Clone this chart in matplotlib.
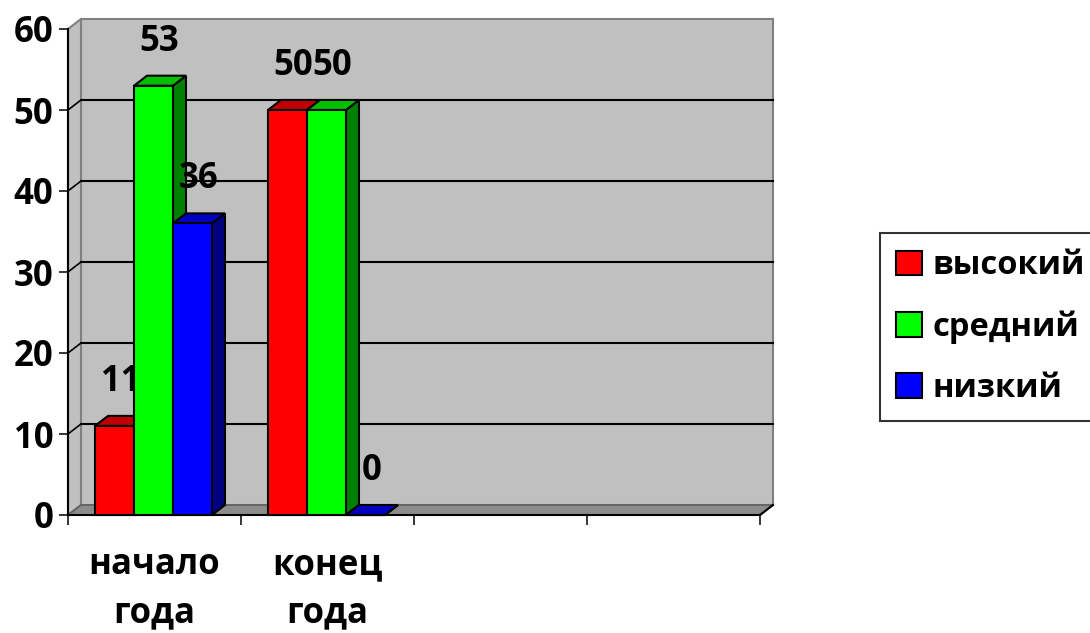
import matplotlib.pyplot as plt
from matplotlib.patches import Polygon, Patch

plt.rcParams["font.family"] = ["Open Sans", "DejaVu Sans"]
plt.rcParams["font.weight"] = "bold"

categories = ["начало\nгода", "конец\nгода", "", ""]
series = ["высокий", "средний", "низкий"]
values = {
    "высокий": [11, 50, None, None],
    "средний": [53, 50, None, None],
    "низкий": [36, 0, None, None],
}
front_colors = {"высокий": "#FF0000", "средний": "#00FF00", "низкий": "#0000FF"}
top_colors = {"высокий": "#C00000", "средний": "#00C000", "низкий": "#0000C0"}
side_colors = {"высокий": "#800000", "средний": "#008000", "низкий": "#000080"}

W, H = 1090, 633
FS = 25
LEG_FS = 23.5
BAR_W = 0.2254
BAR_START = 0.156
YMAX = 60

fig = plt.figure(figsize=(W / 100, H / 100), dpi=100)
ax = fig.add_axes([68 / W, (H - 515) / H, (760 - 68) / W, (515 - 29) / H])
ncat = len(categories)
ax.set_xlim(0, ncat)
ax.set_ylim(0, YMAX)

# depth of the 3d box, given in pixels, turned into data units
dx = 13 * ncat / (760 - 68)
dy = 10 * YMAX / (515 - 29)

wall = "#C0C0C0"
edge = "#808080"
ax.add_patch(Polygon([(dx, dy), (ncat + dx, dy), (ncat + dx, YMAX + dy), (dx, YMAX + dy)],
                     closed=True, fc=wall, ec=edge, lw=1.5, zorder=1, clip_on=False))
ax.add_patch(Polygon([(0, 0), (dx, dy), (dx, YMAX + dy), (0, YMAX)],
                     closed=True, fc=wall, ec=edge, lw=1.5, zorder=1, clip_on=False))
ax.add_patch(Polygon([(0, 0), (ncat, 0), (ncat + dx, dy), (dx, dy)],
                     closed=True, fc="#8C8C8C", ec="#606060", lw=1.2, zorder=1.5, clip_on=False))
ax.plot([ncat, ncat + dx], [0, dy], color="black", lw=1.5, zorder=1.6, clip_on=False)

for g in range(10, YMAX, 10):
    ax.plot([dx, ncat + dx], [g + dy, g + dy], color="black", lw=1.5, zorder=2, clip_on=False)
    ax.plot([0, dx], [g, g + dy], color="black", lw=1.2, zorder=2, clip_on=False)

z = 3
for i in range(ncat):
    for j, name in enumerate(series):
        v = values[name][i]
        if v is None:
            continue
        x0 = i + BAR_START + j * BAR_W
        x1 = x0 + BAR_W
        ax.add_patch(Polygon([(x1, 0), (x1 + dx, dy), (x1 + dx, v + dy), (x1, v)],
                             closed=True, fc=side_colors[name], ec="black", lw=1.5, zorder=z, clip_on=False))
        ax.add_patch(Polygon([(x0, v), (x1, v), (x1 + dx, v + dy), (x0 + dx, v + dy)],
                             closed=True, fc=top_colors[name], ec="black", lw=1.5, zorder=z, clip_on=False))
        ax.add_patch(Polygon([(x0, 0), (x1, 0), (x1, v), (x0, v)],
                             closed=True, fc=front_colors[name], ec="black", lw=1.5, zorder=z, clip_on=False))
        ax.annotate(str(v), xy=((x0 + x1) / 2, v), xytext=(6, 44), textcoords="offset pixels",
                    ha="center", va="center", fontsize=FS, fontweight="bold", zorder=10)
        z += 1

for s in ["top", "right"]:
    ax.spines[s].set_visible(False)
for s in ["left", "bottom"]:
    ax.spines[s].set_linewidth(1.5)
    ax.spines[s].set_zorder(20)
ax.set_facecolor("none")

ax.set_yticks(range(0, YMAX + 1, 10))
ax.tick_params(axis="y", direction="out", length=6.5, width=1.1, pad=4, labelsize=FS)
ax.set_xticks(range(ncat + 1))
ax.set_xticklabels([])
ax.set_xticks([i + 0.5 for i in range(ncat)], minor=True)
ax.set_xticklabels(categories, minor=True, fontsize=FS, fontweight="bold", linespacing=1.45)
ax.tick_params(axis="x", which="major", direction="out", length=7.2, width=1.1)
ax.tick_params(axis="x", which="minor", length=0, pad=23)

handles = [Patch(fc=front_colors[n], ec="black", lw=1.5) for n in series]
leg = fig.legend(handles, series, loc="upper left", bbox_to_anchor=(880 / W, 1 - 233 / H),
                 borderaxespad=0, frameon=True, fancybox=False,
                 handlelength=0.8, handleheight=0.77, handletextpad=0.3,
                 labelspacing=0.86, borderpad=0.5, prop={"weight": "bold", "size": LEG_FS})
leg.get_frame().set_edgecolor("black")
leg.get_frame().set_linewidth(1.5)

fig.savefig("out.png", dpi=100)
